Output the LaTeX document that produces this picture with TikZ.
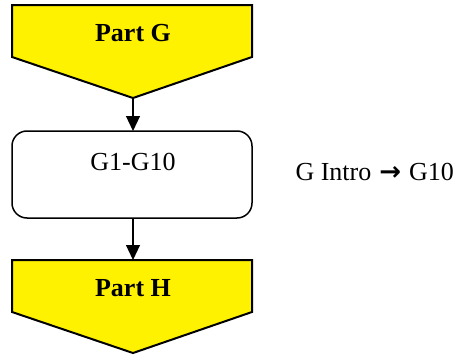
\documentclass[tikz,border=0pt]{standalone}
\usepackage{fontspec}
\setmainfont{Liberation Serif}
\newfontfamily\arrowfont{DejaVu Sans}
\usetikzlibrary{arrows.meta}
\begin{document}
\begin{tikzpicture}[x=1pt,y=-1pt,
  partshape/.style={draw=black,line width=2pt,fill=yellow,line join=miter},
  flow/.style={line width=1.2pt,-{Triangle[width=14pt,length=15pt]}},
  lbl/.style={font=\fontsize{26}{30}\selectfont}]
\useasboundingbox (0,0) rectangle (461,356);
% Part G banner
\draw[partshape] (12,5) -- (252,5) -- (252,57) -- (133,98) -- (12,57) -- cycle;
\node[lbl,font=\fontsize{26}{30}\selectfont\bfseries] (pg) at (133,33) {Part G};
\coordinate (pgtip) at (133,98);
% Section box
\draw[line width=1.5pt,rounded corners=15pt] (12,131) rectangle (252,218);
\node[lbl] (g) at (133,162) {G1-G10};
\coordinate (gtop) at (133,131);
\coordinate (gbot) at (133,218);
\node[lbl,anchor=west] (note) at (292,172) {G Intro\hspace{8pt}{\arrowfont\bfseries\fontsize{26}{30}\selectfont →}\hspace{8pt}G10};
% Part H banner
\draw[partshape] (12,260) -- (252,260) -- (252,312) -- (133,353) -- (12,312) -- cycle;
\node[lbl,font=\fontsize{26}{30}\selectfont\bfseries] (ph) at (133,288) {Part H};
\coordinate (phtop) at (133,260);
% Connectors
\draw[flow] (pgtip) -- (gtop);
\draw[flow] (gbot) -- (phtop);
\end{tikzpicture}
\end{document}
